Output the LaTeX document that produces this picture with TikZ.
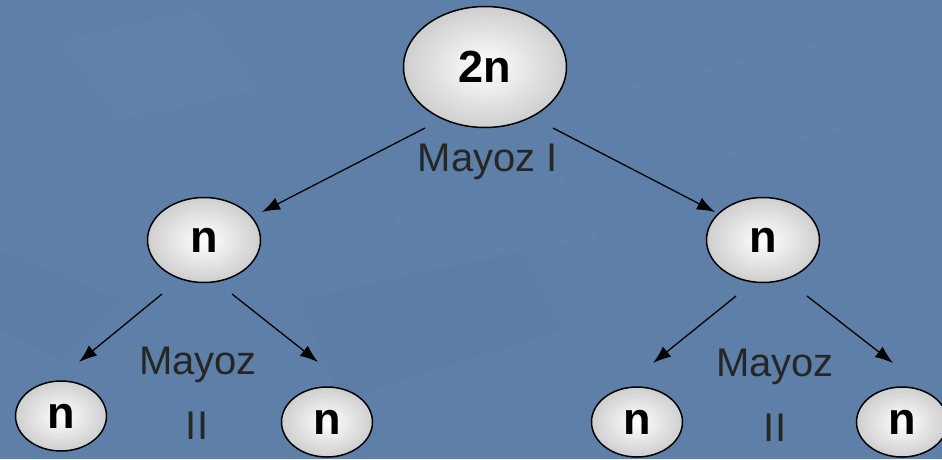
\documentclass[tikz,border=0pt]{standalone}
\usepackage{fontspec}
\setmainfont{Liberation Sans}
\usetikzlibrary{arrows.meta,shapes.geometric}
\definecolor{slate}{HTML}{5E80A8}
\definecolor{slatelight}{HTML}{6B8DB4}
\definecolor{slatedark}{HTML}{54759C}
\begin{document}
\begin{tikzpicture}[x=1pt,y=-1pt,
  cell/.style={ellipse,draw=black,line width=1.5pt,inner color=white,outer color=black!19,
    font=\fontsize{45}{45}\selectfont\bfseries,inner sep=0pt},
  big/.style={cell,minimum width=163pt,minimum height=121pt},
  mid/.style={cell,minimum width=113pt,minimum height=85pt},
  small/.style={cell,minimum width=91pt,minimum height=70pt},
  lbl/.style={font=\fontsize{40}{40}\selectfont,text=black!85,inner sep=0pt},
  link/.style={line width=1.3pt,-{Latex[length=18pt,width=13pt]}}]
% softly mottled blue backdrop
\fill[slate] (0,0) rectangle (942,459);
\fill[slatelight,opacity=0.18] (60,40) -- (200,10) -- (260,90) -- (120,120) -- cycle;
\fill[slatedark,opacity=0.18] (300,300) -- (520,250) -- (560,330) -- (340,400) -- cycle;
\fill[slatelight,opacity=0.15] (600,90) -- (820,40) -- (900,120) -- (680,170) -- cycle;
\fill[slatedark,opacity=0.15] (0,250) -- (120,300) -- (60,360) -- (0,330) -- cycle;
\fill[slatelight,opacity=0.15] (380,200) -- (560,170) -- (600,240) -- (430,270) -- cycle;
\useasboundingbox (0,0) rectangle (942,459);

% cells
\node[big]   (top) at (485,67)  {2n};
\node[mid]   (l)   at (204,240) {n};
\node[mid]   (r)   at (763,240) {n};
\node[small] (ll)  at (61,416)  {n};
\node[small] (lr)  at (327,422) {n};
\node[small] (rl)  at (637,422) {n};
\node[small] (rr)  at (902,422) {n};

% division labels
\node[lbl] (m1)  at (488,162) {Mayoz I};
\node[lbl] (m2l) at (198,365) {Mayoz};
\node[lbl] (i2l) at (197,426) {II};
\node[lbl] (m2r) at (775,367) {Mayoz};
\node[lbl] (i2r) at (775,428) {II};

% arrow ends, kept clear of the cells
\coordinate (topA) at (425,128);
\coordinate (topB) at (553,128);
\coordinate (lIn)  at (262,212);
\coordinate (rIn)  at (715,212);
\coordinate (lA)   at (162,294);
\coordinate (lB)   at (232,294);
\coordinate (llIn) at (79,362);
\coordinate (lrIn) at (318,362);
\coordinate (rA)   at (736,296);
\coordinate (rB)   at (807,296);
\coordinate (rlIn) at (653,363);
\coordinate (rrIn) at (893,363);

\draw[link] (topA) -- (lIn);
\draw[link] (topB) -- (rIn);
\draw[link] (lA) -- (llIn);
\draw[link] (lB) -- (lrIn);
\draw[link] (rA) -- (rlIn);
\draw[link] (rB) -- (rrIn);
\end{tikzpicture}
\end{document}
